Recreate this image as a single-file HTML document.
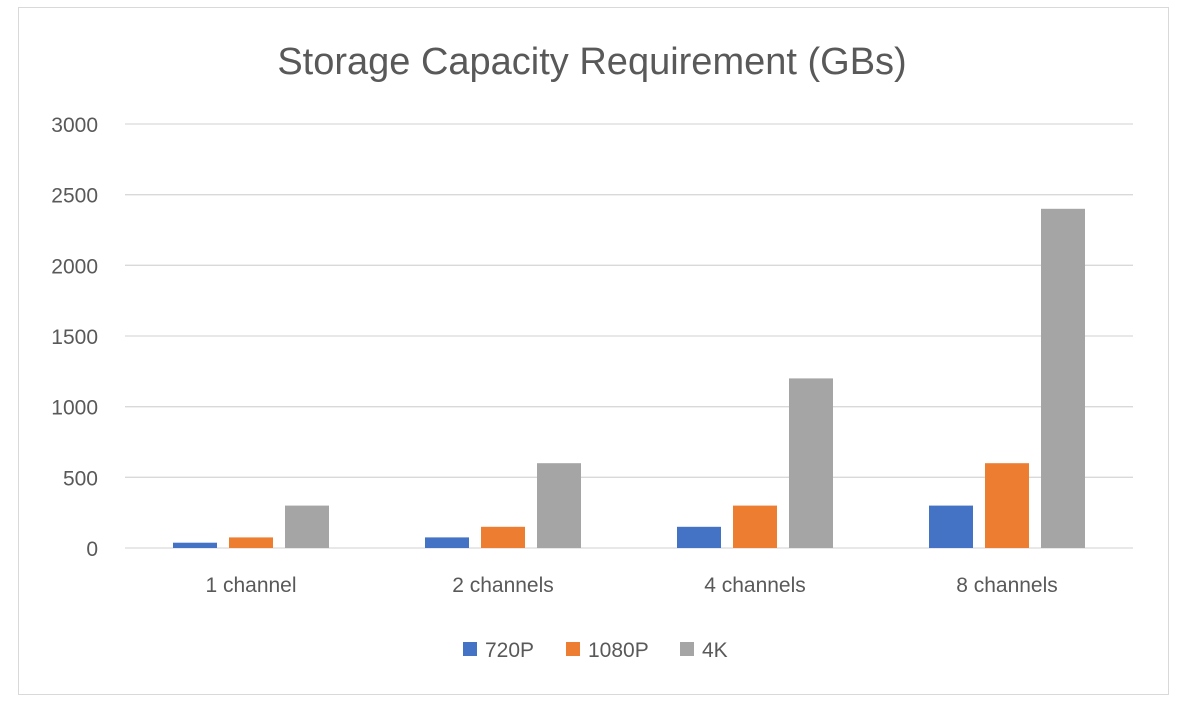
<!DOCTYPE html>
<html><head><meta charset="utf-8"><style>
body{margin:0;background:#fff;}
svg{display:block;font-family:"Liberation Sans",sans-serif;}
</style></head><body>
<svg id="chart" width="1187" height="707">
<rect x="18.5" y="7.5" width="1150" height="687" fill="#fff" stroke="#d9d9d9"/>
<text x="592" y="74" text-anchor="middle" font-size="38" fill="#595959">Storage Capacity Requirement (GBs)</text>
<g id="grid"></g><g id="bars"></g><g id="xlabels"></g>
<g>
<rect x="463" y="642" width="14" height="14" fill="#4472c4"/>
<text x="485" y="657" font-size="21" fill="#595959">720P</text>
<rect x="566" y="642" width="14" height="14" fill="#ed7d31"/>
<text x="588" y="657" font-size="21" fill="#595959">1080P</text>
<rect x="680" y="642" width="14" height="14" fill="#a5a5a5"/>
<text x="702" y="657" font-size="21" fill="#595959">4K</text>
</g>
</svg>
<script>
const categories=["1 channel","2 channels","4 channels","8 channels"];
const s720=[37.5,75,150,300];
const s1080=[75,150,300,600];
const s4k=[300,600,1200,2400];
const yTicks=[0,500,1000,1500,2000,2500,3000];
const NS="http://www.w3.org/2000/svg";
const x0=125,x1=1133,yTop=124,yBot=548,yMax=3000;
const y=v=>yBot-(v/yMax)*(yBot-yTop);
const catW=(x1-x0)/categories.length;
const grid=document.getElementById('grid');
yTicks.forEach(t=>{
 const l=document.createElementNS(NS,'line');
 l.setAttribute('x1',x0);l.setAttribute('x2',x1);l.setAttribute('y1',y(t));l.setAttribute('y2',y(t));
 l.setAttribute('stroke','#d9d9d9');l.setAttribute('stroke-width','1.3');
 
 
 grid.appendChild(l);
 const tx=document.createElementNS(NS,'text');
 tx.setAttribute('x',98);tx.setAttribute('y',y(t)+8);tx.setAttribute('text-anchor','end');
 tx.setAttribute('font-size','21');tx.setAttribute('fill','#595959');tx.textContent=t;
 
 
 grid.appendChild(tx);
});
const series=[[s720,'#4472c4','720p'],[s1080,'#ed7d31','1080p'],[s4k,'#a5a5a5','4k']];
const bw=44,gap=12;
const bars=document.getElementById('bars'),xl=document.getElementById('xlabels');
categories.forEach((c,i)=>{
 const cx=x0+catW*(i+0.5);
 series.forEach((s,j)=>{
  const r=document.createElementNS(NS,'rect');
  const bx=cx+(j-1)*(bw+gap)-bw/2;
  r.setAttribute('x',bx);r.setAttribute('y',y(s[0][i]));r.setAttribute('width',bw);
  r.setAttribute('height',yBot-y(s[0][i]));r.setAttribute('fill',s[1]);
  
  
  bars.appendChild(r);
 });
 const t=document.createElementNS(NS,'text');
 t.setAttribute('x',cx);t.setAttribute('y',592);t.setAttribute('text-anchor','middle');
 t.setAttribute('font-size','21');t.setAttribute('fill','#595959');t.textContent=c;
 
 
 xl.appendChild(t);
});
</script>
</body></html>
